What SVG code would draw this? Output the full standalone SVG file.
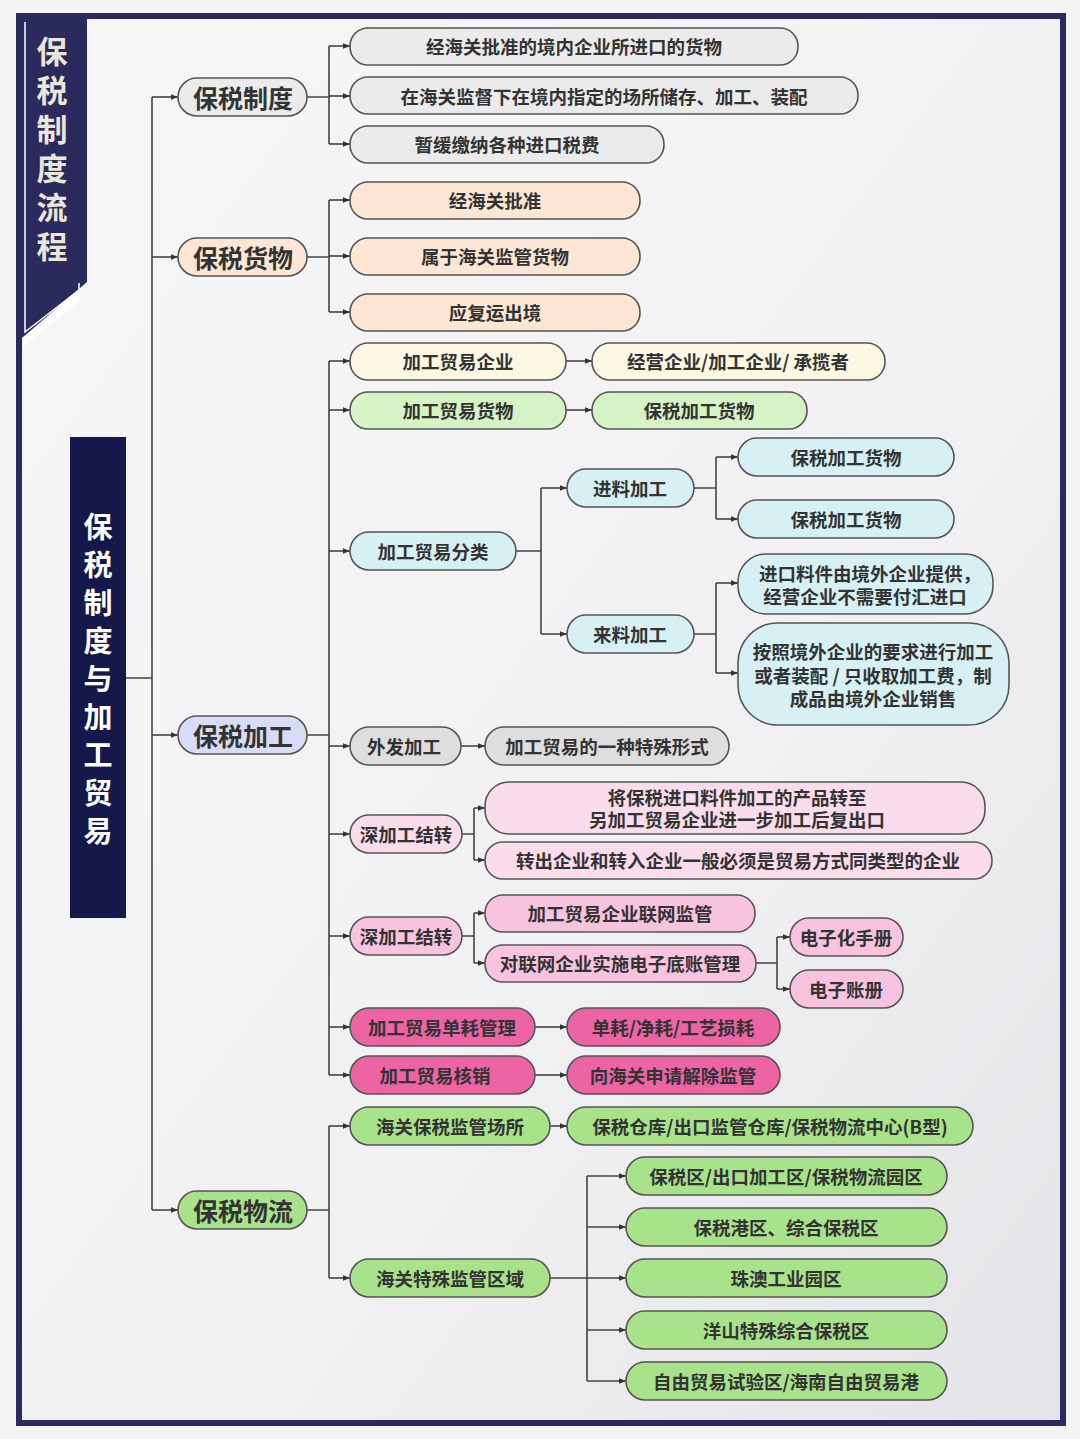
<svg xmlns="http://www.w3.org/2000/svg" width="1080" height="1439" viewBox="0 0 1080 1439">
<style>
.n{stroke:#555;stroke-width:1.6}
.t{font-family:"Noto Sans CJK SC","Noto Sans CJK JP",sans-serif;font-weight:bold;font-size:18.5px;fill:#333;text-anchor:middle;dominant-baseline:central}
.t1{font-size:25px}
.c{fill:none;stroke:#444;stroke-width:1.6;marker-end:url(#a)}
.l{fill:none;stroke:#444;stroke-width:1.6}
.g{fill:#ebebeb}.o{fill:#fde6d4}.y{fill:#fcf8e3}.lg{fill:#d6f3c6}.b{fill:#d6f0f4}.gr{fill:#dedede}.p1{fill:#fbdcea}.p2{fill:#f8c3de}.p3{fill:#ec64a4}.gn{fill:#a8e28b}.v{fill:#d8dcf6}
</style>
<defs>
<marker id="a" viewBox="0 0 10 10" refX="10" refY="5" markerWidth="7" markerHeight="7" orient="auto" markerUnits="userSpaceOnUse"><path d="M0,1 L10,5 L0,9 z" fill="#333"/></marker>
<linearGradient id="bg" x1="0" y1="0" x2="1" y2="1"><stop offset="0" stop-color="#f7f7f8"/><stop offset="0.6" stop-color="#f1f1f3"/><stop offset="1" stop-color="#e4e4e8"/></linearGradient>
</defs>
<rect width="1080" height="1439" fill="#f5f5f6"/>
<rect x="19" y="16" width="1044" height="1407" fill="url(#bg)" stroke="#2b2a5c" stroke-width="6"/>
<g id="banner">
<polygon points="22,19 87,19 87,282 22,338" fill="#2b2a5c"/>
<polyline points="25,22 25,332 79,290 79,283" fill="none" stroke="#fff" stroke-width="1.5"/>
<polygon points="22,338 79,293 79,302 22,347" fill="#fff"/>
<text font-family="Noto Sans CJK SC,sans-serif" font-weight="bold" font-size="31" fill="#ebe6da" text-anchor="middle"><tspan x="52" y="63">保</tspan><tspan x="52" y="102">税</tspan><tspan x="52" y="141">制</tspan><tspan x="52" y="180">度</tspan><tspan x="52" y="219">流</tspan><tspan x="52" y="258">程</tspan></text>
</g>
<g id="root">
<rect x="70" y="437" width="56" height="481" fill="#15184a"/>
<text font-family="Noto Sans CJK SC,sans-serif" font-weight="bold" font-size="29" fill="#fff" text-anchor="middle"><tspan x="98" y="538">保</tspan><tspan x="98" y="576">税</tspan><tspan x="98" y="614">制</tspan><tspan x="98" y="652">度</tspan><tspan x="98" y="690">与</tspan><tspan x="98" y="728">加</tspan><tspan x="98" y="766">工</tspan><tspan x="98" y="804">贸</tspan><tspan x="98" y="842">易</tspan></text>
</g>
<g id="connectors">
<path class="l" d="M126,678 H152 M152,97 V1210"/>
<path class="c" d="M152,97 H178"/><path class="c" d="M152,257 H178"/><path class="c" d="M152,735 H178"/><path class="c" d="M152,1210 H178"/>
<path class="l" d="M307,97 H329 M329,46 V144"/>
<path class="c" d="M329,46 H350"/><path class="c" d="M329,96 H350"/><path class="c" d="M329,144 H350"/>
<path class="l" d="M307,257 H329 M329,200 V312"/>
<path class="c" d="M329,200 H350"/><path class="c" d="M329,256 H350"/><path class="c" d="M329,312 H350"/>
<path class="l" d="M307,735 H329 M329,361 V1075"/>
<path class="c" d="M329,361 H350"/><path class="c" d="M329,410 H350"/><path class="c" d="M329,551 H350"/><path class="c" d="M329,746 H350"/><path class="c" d="M329,834 H350"/><path class="c" d="M329,936 H350"/><path class="c" d="M329,1027 H350"/><path class="c" d="M329,1075 H350"/>
<path class="c" d="M566,361 H592"/><path class="c" d="M566,410 H592"/>
<path class="l" d="M516,551 H541 M541,488 V634"/>
<path class="c" d="M541,488 H567"/><path class="c" d="M541,634 H567"/>
<path class="l" d="M694,488 H716 M716,457 V519"/>
<path class="c" d="M716,457 H738"/><path class="c" d="M716,519 H738"/>
<path class="l" d="M694,634 H716 M716,583 V673"/>
<path class="c" d="M716,583 H738"/><path class="c" d="M716,673 H738"/>
<path class="c" d="M461,746 H485"/>
<path class="l" d="M462,834 H474 M474,808 V860"/>
<path class="c" d="M474,808 H485"/><path class="c" d="M474,860 H485"/>
<path class="l" d="M462,936 H474 M474,913 V963"/>
<path class="c" d="M474,913 H485"/><path class="c" d="M474,963 H485"/>
<path class="l" d="M756,963 H777 M777,937 V989"/>
<path class="c" d="M777,937 H790"/><path class="c" d="M777,989 H790"/>
<path class="c" d="M535,1027 H567"/><path class="c" d="M535,1075 H567"/>
<path class="l" d="M307,1210 H329 M329,1126 V1278"/>
<path class="c" d="M329,1126 H350"/><path class="c" d="M329,1278 H350"/>
<path class="c" d="M550,1126 H567"/>
<path class="l" d="M550,1278 H587 M587,1176 V1381"/>
<path class="c" d="M587,1176 H626"/><path class="c" d="M587,1227 H626"/><path class="c" d="M587,1278 H626"/><path class="c" d="M587,1330 H626"/><path class="c" d="M587,1381 H626"/>
</g>
<g id="n_zhidu"><rect class="n g" x="178" y="78" width="129" height="38" rx="19"/><text class="t t1" x="243" y="97">保税制度</text></g>
<g id="n_huowu"><rect class="n o" x="178" y="238" width="129" height="38" rx="19"/><text class="t t1" x="243" y="257">保税货物</text></g>
<g id="n_jiagong"><rect class="n v" x="178" y="716" width="129" height="38" rx="19"/><text class="t t1" x="243" y="735">保税加工</text></g>
<g id="n_wuliu"><rect class="n gn" x="178" y="1191" width="129" height="38" rx="19"/><text class="t t1" x="243" y="1210">保税物流</text></g>
<g id="n_z1"><rect class="n g" x="350" y="28" width="448" height="37" rx="18"/><text class="t" x="574" y="46">经海关批准的境内企业所进口的货物</text></g>
<g id="n_z2"><rect class="n g" x="350" y="77" width="508" height="37" rx="18"/><text class="t" x="604" y="96">在海关监督下在境内指定的场所储存、加工、装配</text></g>
<g id="n_z3"><rect class="n g" x="350" y="126" width="314" height="37" rx="18"/><text class="t" x="507" y="144">暂缓缴纳各种进口税费</text></g>
<g id="n_h1"><rect class="n o" x="350" y="182" width="290" height="37" rx="18"/><text class="t" x="495" y="200">经海关批准</text></g>
<g id="n_h2"><rect class="n o" x="350" y="238" width="290" height="37" rx="18"/><text class="t" x="495" y="256">属于海关监管货物</text></g>
<g id="n_h3"><rect class="n o" x="350" y="294" width="290" height="37" rx="18"/><text class="t" x="495" y="312">应复运出境</text></g>
<g id="n_j1"><rect class="n y" x="350" y="343" width="216" height="37" rx="18"/><text class="t" x="458" y="361">加工贸易企业</text></g>
<g id="n_j1a"><rect class="n y" x="592" y="343" width="293" height="37" rx="18"/><text class="t" x="738" y="361">经营企业/加工企业/ 承揽者</text></g>
<g id="n_j2"><rect class="n lg" x="350" y="392" width="216" height="37" rx="18"/><text class="t" x="458" y="410">加工贸易货物</text></g>
<g id="n_j2a"><rect class="n lg" x="592" y="392" width="215" height="37" rx="18"/><text class="t" x="699" y="410">保税加工货物</text></g>
<g id="n_j3"><rect class="n b" x="350" y="532" width="166" height="38" rx="19"/><text class="t" x="433" y="551">加工贸易分类</text></g>
<g id="n_jl"><rect class="n b" x="567" y="469" width="127" height="38" rx="19"/><text class="t" x="630" y="488">进料加工</text></g>
<g id="n_ll"><rect class="n b" x="567" y="615" width="127" height="38" rx="19"/><text class="t" x="630" y="634">来料加工</text></g>
<g id="n_jl1"><rect class="n b" x="738" y="438" width="216" height="38" rx="19"/><text class="t" x="846" y="457">保税加工货物</text></g>
<g id="n_jl2"><rect class="n b" x="738" y="500" width="216" height="38" rx="19"/><text class="t" x="846" y="519">保税加工货物</text></g>
<g id="n_ll1"><rect class="n b" x="738" y="554" width="255" height="60" rx="28"/><text class="t" x="870" y="573">进口料件由境外企业提供，</text><text class="t" x="865" y="596">经营企业不需要付汇进口</text></g>
<g id="n_ll2"><rect class="n b" x="738" y="623" width="271" height="102" rx="40"/><text class="t" x="873" y="651">按照境外企业的要求进行加工</text><text class="t" x="873" y="675">或者装配 / 只收取加工费，制</text><text class="t" x="873" y="698">成品由境外企业销售</text></g>
<g id="n_wf"><rect class="n gr" x="350" y="727" width="111" height="38" rx="19"/><text class="t" x="404" y="746">外发加工</text></g>
<g id="n_wf1"><rect class="n gr" x="485" y="727" width="244" height="38" rx="19"/><text class="t" x="607" y="746">加工贸易的一种特殊形式</text></g>
<g id="n_sj1"><rect class="n p1" x="350" y="815" width="112" height="38" rx="19"/><text class="t" x="406" y="834">深加工结转</text></g>
<g id="n_sj1a"><rect class="n p1" x="485" y="782" width="500" height="52" rx="24"/><text class="t" x="737" y="797">将保税进口料件加工的产品转至</text><text class="t" x="737" y="819">另加工贸易企业进一步加工后复出口</text></g>
<g id="n_sj1b"><rect class="n p1" x="485" y="842" width="507" height="37" rx="18"/><text class="t" x="738" y="860">转出企业和转入企业一般必须是贸易方式同类型的企业</text></g>
<g id="n_sj2"><rect class="n p2" x="350" y="917" width="112" height="38" rx="19"/><text class="t" x="406" y="936">深加工结转</text></g>
<g id="n_sj2a"><rect class="n p2" x="485" y="895" width="270" height="37" rx="18"/><text class="t" x="620" y="913">加工贸易企业联网监管</text></g>
<g id="n_sj2b"><rect class="n p2" x="485" y="945" width="271" height="37" rx="18"/><text class="t" x="620" y="963">对联网企业实施电子底账管理</text></g>
<g id="n_dz1"><rect class="n p2" x="790" y="918" width="113" height="38" rx="19"/><text class="t" x="846" y="937">电子化手册</text></g>
<g id="n_dz2"><rect class="n p2" x="790" y="970" width="113" height="38" rx="19"/><text class="t" x="846" y="989">电子账册</text></g>
<g id="n_dh"><rect class="n p3" x="350" y="1008" width="185" height="38" rx="19"/><text class="t" x="442" y="1027">加工贸易单耗管理</text></g>
<g id="n_dha"><rect class="n p3" x="567" y="1008" width="213" height="38" rx="19"/><text class="t" x="673" y="1027">单耗/净耗/工艺损耗</text></g>
<g id="n_hx"><rect class="n p3" x="350" y="1056" width="185" height="38" rx="19"/><text class="t" x="435" y="1075">加工贸易核销</text></g>
<g id="n_hxa"><rect class="n p3" x="567" y="1056" width="213" height="38" rx="19"/><text class="t" x="673" y="1075">向海关申请解除监管</text></g>
<g id="n_w1"><rect class="n gn" x="350" y="1107" width="200" height="38" rx="19"/><text class="t" x="450" y="1126">海关保税监管场所</text></g>
<g id="n_w1a"><rect class="n gn" x="567" y="1107" width="406" height="38" rx="19"/><text class="t" x="770" y="1126">保税仓库/出口监管仓库/保税物流中心(B型)</text></g>
<g id="n_w2"><rect class="n gn" x="350" y="1259" width="200" height="38" rx="19"/><text class="t" x="450" y="1278">海关特殊监管区域</text></g>
<g id="n_q1"><rect class="n gn" x="626" y="1157" width="321" height="38" rx="19"/><text class="t" x="786" y="1176">保税区/出口加工区/保税物流园区</text></g>
<g id="n_q2"><rect class="n gn" x="626" y="1208" width="321" height="38" rx="19"/><text class="t" x="786" y="1227">保税港区、综合保税区</text></g>
<g id="n_q3"><rect class="n gn" x="626" y="1259" width="321" height="38" rx="19"/><text class="t" x="786" y="1278">珠澳工业园区</text></g>
<g id="n_q4"><rect class="n gn" x="626" y="1311" width="321" height="38" rx="19"/><text class="t" x="786" y="1330">洋山特殊综合保税区</text></g>
<g id="n_q5"><rect class="n gn" x="626" y="1362" width="321" height="38" rx="19"/><text class="t" x="786" y="1381">自由贸易试验区/海南自由贸易港</text></g>
</svg>
